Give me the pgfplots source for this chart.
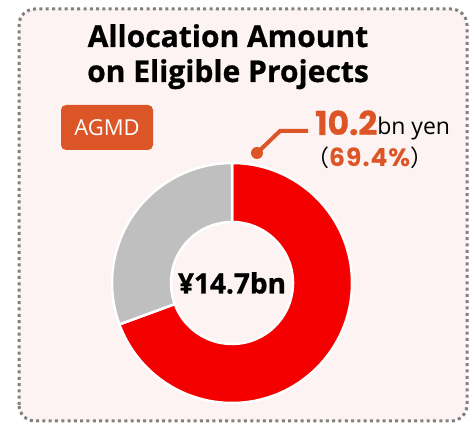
\documentclass[border=0pt]{standalone}
\usepackage{pgfplots}
\pgfplotsset{compat=1.18}
\usepackage{pgfplotstable}
\usepackage{fontspec}
\setmainfont{Open Sans}
\newfontfamily\cjk{Noto Sans CJK JP}
\newfontfamily\heavy{Poppins}

\definecolor{bgpink}{HTML}{FCF3F2}
\definecolor{dotgray}{HTML}{808080}
\definecolor{accent}{HTML}{DC5526}
\definecolor{donutred}{HTML}{F40000}
\definecolor{donutgray}{HTML}{BFBFBF}

% allocation, bn yen
\pgfplotstableread{
label    value
Eligible 10.2
Other    4.5
}\alloc

\begin{document}
\begin{tikzpicture}
\pgfplotstablegetelem{0}{value}\of\alloc \let\va\pgfplotsretval
\pgfplotstablegetelem{1}{value}\of\alloc \let\vb\pgfplotsretval
\pgfmathsetmacro\total{\va+\vb}
\pgfmathsetmacro\angA{360*\va/\total}
\begin{axis}[
  at={(0,0)}, anchor=south west,
  width=474pt, height=427pt, scale only axis,
  xmin=0, xmax=474, ymin=0, ymax=427,
  hide axis, clip=false,
]
% panel
\draw[dotgray, fill=bgpink, line width=3pt, dash pattern=on 3pt off 3.3pt,
  rounded corners=16pt] (axis cs:19,6) rectangle (axis cs:467,418);

% title
\node[anchor=base, inner sep=0] at (axis cs:228,380)
  {\fontsize{30}{30}\selectfont\bfseries\addfontfeature{FakeBold=0.8}Allocation Amount};
\node[anchor=base, inner sep=0] at (axis cs:228,345)
  {\fontsize{30}{30}\selectfont\bfseries\addfontfeature{FakeBold=0.8}on Eligible Projects};

% label box
\node[fill=accent, rounded corners=5pt, minimum width=92pt, minimum height=45pt,
  text=white, inner sep=0] at (axis cs:107,299.5)
  {\fontsize{22}{22}\selectfont AGMD};

% donut
\coordinate (c) at (axis cs:232,144);
\fill[donutred, draw=white, line width=2.5pt]
  ([shift={(90:120pt)}]c) arc[start angle=90, end angle={90-\angA}, radius=120pt]
  -- ([shift={({90-\angA}:61pt)}]c) arc[start angle={90-\angA}, end angle=90, radius=61pt]
  -- cycle;
\fill[donutgray, draw=white, line width=2.5pt]
  ([shift={({90-\angA}:120pt)}]c) arc[start angle={90-\angA}, end angle=-270, radius=120pt]
  -- ([shift={(-270:61pt)}]c) arc[start angle=-270, end angle={90-\angA}, radius=61pt]
  -- cycle;
\node[inner sep=0] at (c) {\fontsize{28}{28}\selectfont\bfseries\addfontfeature{FakeBold=0.8}¥14.7bn};

% callout
\draw[accent, line width=4pt] (axis cs:257,274) -- (axis cs:280,296) -- (axis cs:308,296);
\fill[accent] (axis cs:257,274) circle[radius=6pt];
\node[anchor=base west, inner sep=0] at (axis cs:315,292)
  {{\fontsize{33}{33}\selectfont\heavy\bfseries\addfontfeature{FakeBold=0.6}\color{accent}10.2}{\fontsize{23}{23}\selectfont bn yen}};
\node[anchor=base west, inner sep=0] at (axis cs:306,260)
  {\fontsize{23}{23}\selectfont{\cjk （}{\fontsize{25}{25}\selectfont\heavy\bfseries\addfontfeature{LetterSpace=4}\color{accent}69.4\%}{\cjk ）}};
\end{axis}
\pgfresetboundingbox
\useasboundingbox (0,0) rectangle (474pt,427pt);
\end{tikzpicture}
\end{document}
